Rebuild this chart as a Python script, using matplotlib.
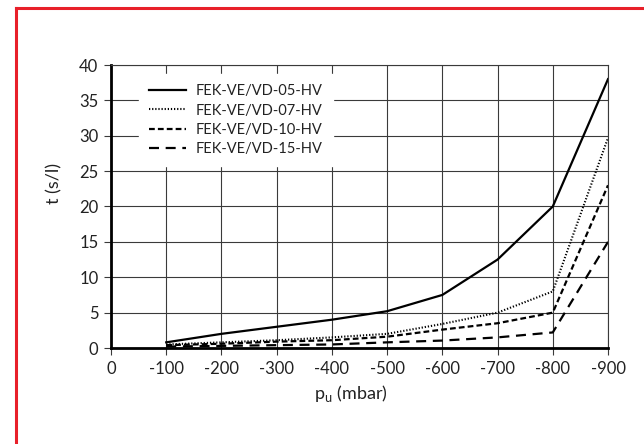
import matplotlib.pyplot as plt
from matplotlib.lines import Line2D

plt.rcParams['font.family'] = ['Lato', 'DejaVu Sans']

# pressure points (mbar)
p_u = [-100, -200, -300, -400, -500, -600, -700, -800, -900]

# time per litre (s/l) for each pump
t_05 = [0.8, 2.0, 3.0, 4.0, 5.2, 7.5, 12.5, 20.0, 38.0]
t_07 = [0.5, 0.8, 1.1, 1.5, 2.0, 3.4, 5.0, 8.0, 29.7]
t_10 = [0.4, 0.6, 0.9, 1.1, 1.6, 2.6, 3.5, 5.0, 23.0]
t_15 = [0.2, 0.3, 0.4, 0.5, 0.8, 1.05, 1.5, 2.2, 15.0]

labels = ['FEK-VE/VD-05-HV', 'FEK-VE/VD-07-HV', 'FEK-VE/VD-10-HV', 'FEK-VE/VD-15-HV']

xticks = [0, -100, -200, -300, -400, -500, -600, -700, -800, -900]
yticks = [0, 5, 10, 15, 20, 25, 30, 35, 40]

fig = plt.figure(figsize=(6.44, 4.44), dpi=100)
ax = fig.add_axes([111/644, 1 - 348/444, 497/644, 283/444])

ax.plot(p_u, t_05, color='black', lw=1.6, linestyle='-', label=labels[0])
ax.plot(p_u, t_07, color='black', lw=1.5, linestyle=(0, (0.6, 0.9)), label=labels[1])
ax.plot(p_u, t_10, color='black', lw=1.6, linestyle=(0, (2.6, 1.4)), label=labels[2])
ax.plot(p_u, t_15, color='black', lw=1.6, linestyle=(0, (4.5, 3.0)), label=labels[3])

ax.set_xlim(0, -900)
ax.set_ylim(0, 40)
ax.set_xticks(xticks)
ax.set_xticklabels([str(v) for v in xticks])
ax.set_yticks(yticks)

ax.grid(True, color='#3a3a3a', lw=0.8)
ax.set_axisbelow(True)

for s in ['top', 'right']:
    ax.spines[s].set_linewidth(0.8)
    ax.spines[s].set_color('#3a3a3a')
for s in ['left', 'bottom']:
    ax.spines[s].set_linewidth(2.0)
    ax.spines[s].set_color('black')

ax.tick_params(axis='both', length=5, width=0.8, color='#3a3a3a', labelsize=12,
               pad=4, labelcolor='#222222')

ax.set_ylabel('t (s/l)', fontsize=13, color='#222222', labelpad=12)
ax.set_xlabel(r'p$_\mathregular{u}$ (mbar)', fontsize=13, color='#222222', labelpad=5)
ax.yaxis.label.set_y(0.583)
ax.xaxis.label.set_x(0.483)

leg = ax.legend(loc='upper left', bbox_to_anchor=(0.042, 0.993), frameon=True,
                fontsize=10.5, handlelength=2.5, handletextpad=0.7,
                labelspacing=0.35, borderpad=0.7, fancybox=False)
leg.get_frame().set_facecolor('white')
leg.get_frame().set_edgecolor('white')
leg.get_frame().set_alpha(1.0)
for txt in leg.get_texts():
    txt.set_color('#222222')

# red frame at top and left
fig.add_artist(Line2D([15.5/644, 1.0], [1 - 8.5/444, 1 - 8.5/444],
                      transform=fig.transFigure, color='#e8202a', lw=2.2))
fig.add_artist(Line2D([15.5/644, 15.5/644], [0.0, 1 - 8.5/444],
                      transform=fig.transFigure, color='#e8202a', lw=2.2))

fig.savefig('out.png', dpi=100)
